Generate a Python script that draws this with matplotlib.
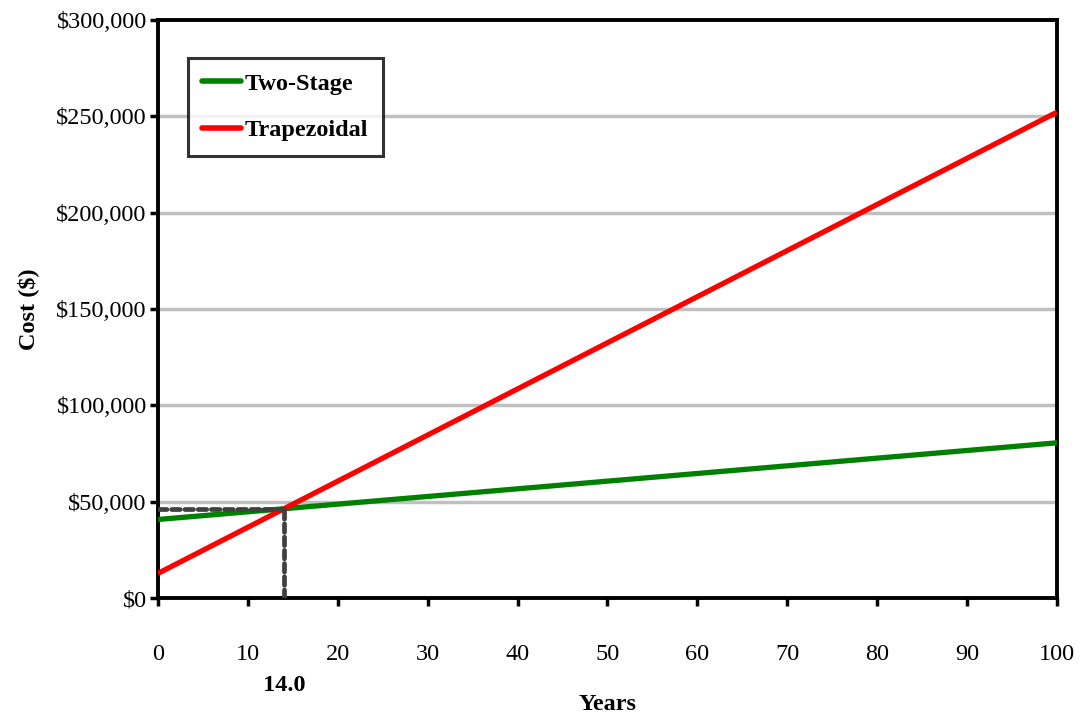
import matplotlib
matplotlib.use("Agg")
import matplotlib.pyplot as plt
from matplotlib.ticker import FuncFormatter

years = [0, 100]
two_stage = [40800, 80600]
trapezoidal = [12800, 252200]
crossover_year = 14.0
crossover_cost = 46300
x_ticks = [0, 10, 20, 30, 40, 50, 60, 70, 80, 90, 100]
y_ticks = [0, 50000, 100000, 150000, 200000, 250000, 300000]

plt.rcParams['font.family'] = ['Liberation Serif', 'DejaVu Serif']

fig = plt.figure(figsize=(10.89, 7.18), dpi=100)
ax = fig.add_axes([0.145, 0.167, 0.8256, 0.805])

for y in y_ticks[1:-1]:
    ax.axhline(y, color='#C0C0C0', lw=2.5, zorder=1)

ax.plot(years, two_stage, color='#008000', lw=3.8, label='Two-Stage', zorder=3, solid_capstyle='butt')
ax.plot(years, trapezoidal, color='#FF0000', lw=3.8, label='Trapezoidal', zorder=3, solid_capstyle='butt')

ax.plot([0, crossover_year], [crossover_cost, crossover_cost], color='#404040', lw=3.4,
        ls=(0, (1.8, 1.0)), zorder=4, dash_capstyle='round')
ax.plot([crossover_year, crossover_year], [0, crossover_cost], color='#404040', lw=3.4,
        ls=(0, (1.8, 1.0)), zorder=4, dash_capstyle='round')

ax.set_xlim(0, 100)
ax.set_ylim(0, 300000)
ax.set_xticks(x_ticks)
ax.set_yticks(y_ticks)
ax.yaxis.set_major_formatter(FuncFormatter(lambda v, p: f"${int(v):,}"))

for s in ax.spines.values():
    s.set_linewidth(2.8)
    s.set_color('black')

ax.tick_params(axis='both', direction='out', width=2.5, length=6, labelsize=17.5, colors='black')
ax.tick_params(axis='x', pad=27)
ax.tick_params(axis='y', pad=2)

ax.text(crossover_year, -0.152, f"{crossover_year:.1f}", transform=ax.get_xaxis_transform(),
        ha='center', va='center', fontsize=17.5, fontweight='bold')

ax.set_xlabel('Years', fontsize=17.5, fontweight='bold', labelpad=21)
ax.set_ylabel('Cost ($)', fontsize=17.5, fontweight='bold', labelpad=12)

leg = ax.legend(loc='upper left', bbox_to_anchor=(0.033, 0.934), borderaxespad=0, frameon=True,
                fancybox=False, edgecolor='black', handlelength=1.6, handletextpad=0.15,
                borderpad=0.6, labelspacing=1.0, prop={'weight': 'bold', 'size': 17.5})
leg.get_frame().set_linewidth(2.2)
for h in leg.get_lines():
    h.set_linewidth(4)
    h.set_solid_capstyle('round')

fig.savefig('out.png', dpi=100)
